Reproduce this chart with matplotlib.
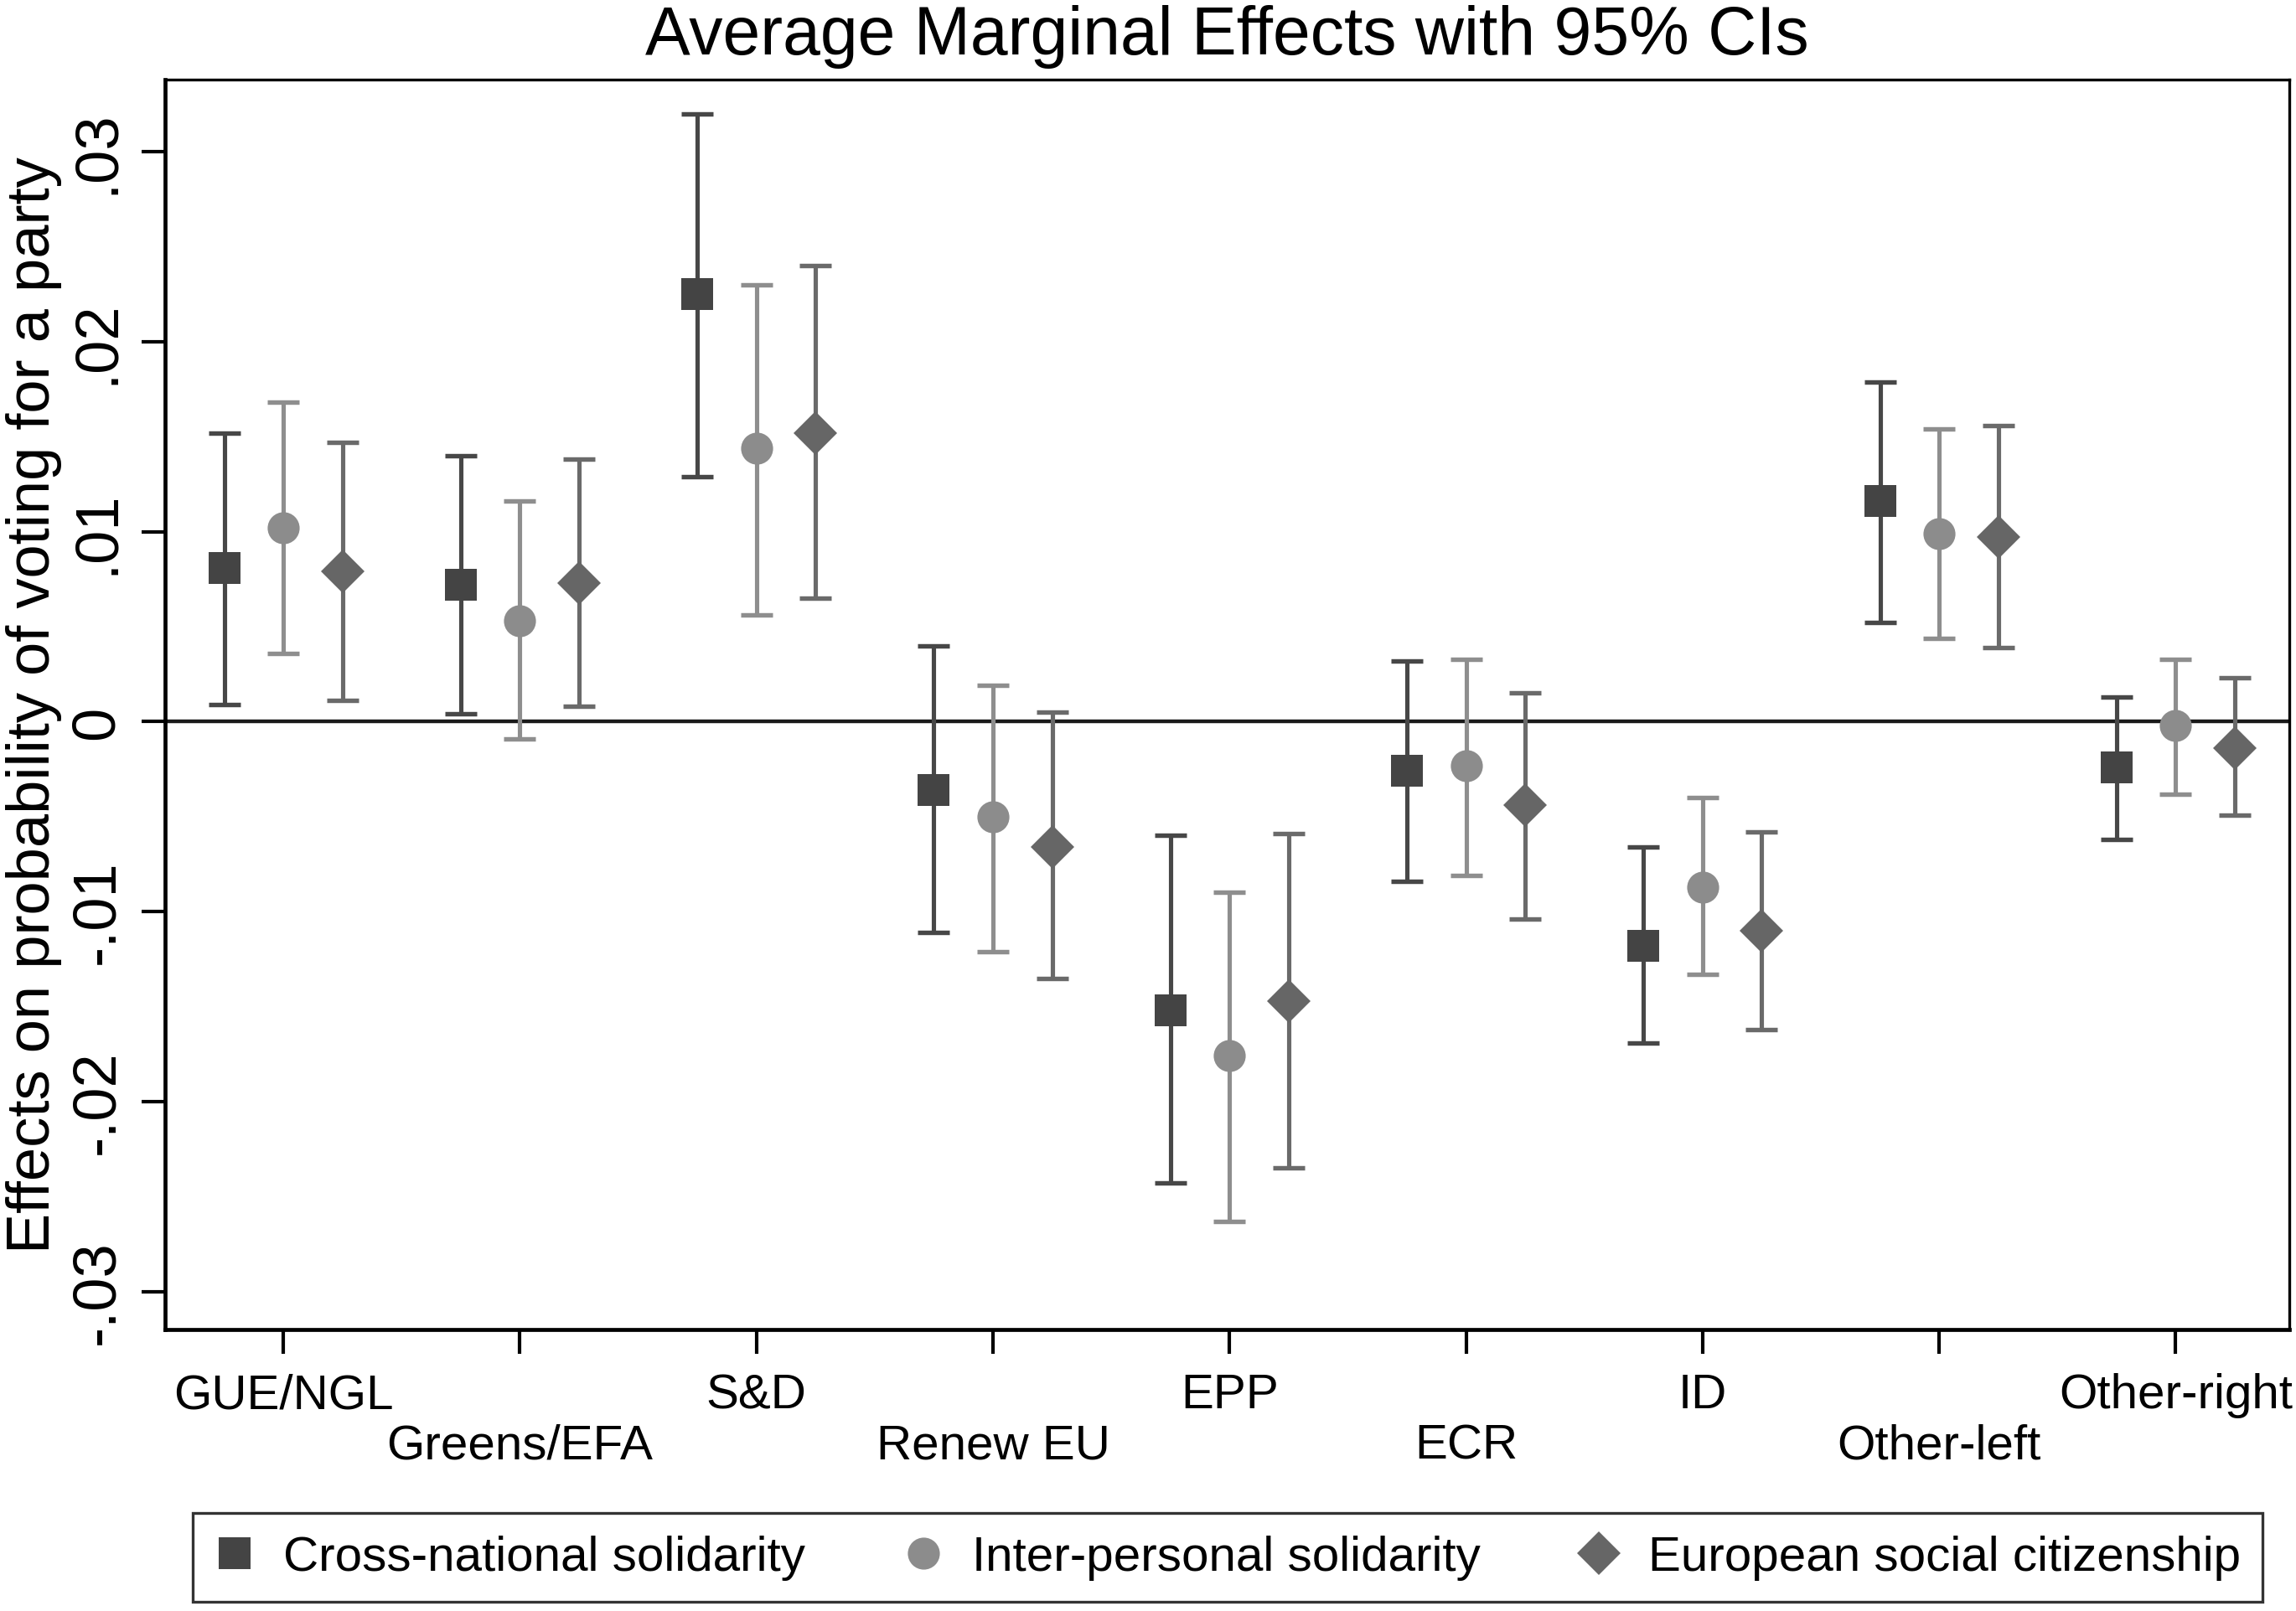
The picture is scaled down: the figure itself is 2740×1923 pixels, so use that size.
import numpy as np
import matplotlib
matplotlib.use("Agg")
import matplotlib.pyplot as plt
from matplotlib.lines import Line2D

plt.rcParams['font.family'] = ['Liberation Sans', 'DejaVu Sans']

parties = ["GUE/NGL", "Greens/EFA", "S&D", "Renew EU", "EPP", "ECR", "ID", "Other-left", "Other-right"]

cross_est = [0.0081, 0.0072, 0.0225, -0.0036, -0.0152, -0.0026, -0.0118, 0.0116, -0.0024]
cross_lo = [0.0009, 0.0004, 0.0129, -0.0111, -0.0243, -0.0084, -0.0169, 0.0052, -0.0062]
cross_hi = [0.0152, 0.0140, 0.0320, 0.0040, -0.0060, 0.0032, -0.0066, 0.0179, 0.0013]

inter_est = [0.0102, 0.0053, 0.0144, -0.0050, -0.0176, -0.0023, -0.0087, 0.0099, -0.0002]
inter_lo = [0.0036, -0.0009, 0.0056, -0.0121, -0.0263, -0.0081, -0.0133, 0.0044, -0.0038]
inter_hi = [0.0168, 0.0116, 0.0230, 0.0019, -0.0090, 0.0033, -0.0040, 0.0154, 0.0033]

euro_est = [0.0079, 0.0073, 0.0152, -0.0066, -0.0147, -0.0044, -0.0110, 0.0097, -0.0014]
euro_lo = [0.0011, 0.0008, 0.0065, -0.0135, -0.0235, -0.0104, -0.0162, 0.0039, -0.0049]
euro_hi = [0.0147, 0.0138, 0.0240, 0.0005, -0.0059, 0.0015, -0.0058, 0.0156, 0.0023]

series_names = ["Cross-national solidarity", "Inter-personal solidarity", "European social citizenship"]

ytick_vals = [-0.03, -0.02, -0.01, 0, 0.01, 0.02, 0.03]
ytick_labels = ["-.03", "-.02", "-.01", "0", ".01", ".02", ".03"]

W, H = 2740, 1924
fig = plt.figure(figsize=(W / 100, H / 100), dpi=100)
ax = fig.add_axes([197 / W, 1 - 1588 / H, (2732 - 197) / W, (1588 - 96) / H])

x = np.arange(1, len(parties) + 1)
series = [
    (cross_est, cross_lo, cross_hi, 's', '#444444', '#474747', 28, -0.25),
    (inter_est, inter_lo, inter_hi, 'o', '#8c8c8c', '#8e8e8e', 27.5, 0.0),
    (euro_est, euro_lo, euro_hi, 'D', '#666666', '#6a6a6a', 26.5, 0.25),
]

ax.axhline(0, color='#1a1a1a', lw=3.2, zorder=1)

handles = []
for (est, lo, hi, mk, mcol, lcol, ms, off), name in zip(series, series_names):
    est = np.array(est); lo = np.array(lo); hi = np.array(hi)
    ax.errorbar(x + off, est, yerr=[est - lo, hi - est], fmt='none',
                ecolor=lcol, elinewidth=3.7, capsize=13.5, capthick=3.9, zorder=2)
    ax.plot(x + off, est, linestyle='none', marker=mk, markersize=ms,
            markerfacecolor=mcol, markeredgecolor=mcol, markeredgewidth=0, zorder=3)
    handles.append(Line2D([], [], linestyle='none', marker=mk, markersize=ms,
                          markerfacecolor=mcol, markeredgecolor=mcol, markeredgewidth=0))

ax.set_xlim(0.5, 9.48)
ax.set_ylim(-0.0320, 0.0338)

ax.set_yticks(ytick_vals)
ax.set_yticklabels(ytick_labels, rotation=90, va='center', fontsize=52)
ax.tick_params(axis='y', length=20, width=3.0, pad=14, direction='out')

ax.set_xticks(x[0::2])
ax.set_xticklabels(parties[0::2], fontsize=42)
ax.set_xticks(x[1::2], minor=True)
ax.set_xticklabels(parties[1::2], minor=True, fontsize=42)
ax.tick_params(axis='x', which='major', length=21, width=3.0, pad=16, direction='out')
ax.tick_params(axis='x', which='minor', length=21, width=3.0, pad=59, direction='out')

for side in ['left', 'bottom']:
    ax.spines[side].set_linewidth(3.4)
for side in ['top', 'right']:
    ax.spines[side].set_linewidth(2.4)

ax.set_ylabel("Effects on probability of voting for a party", fontsize=52, labelpad=6)
ax.set_title("Average Marginal Effects with 95% CIs", fontsize=58, pad=22)

leg = fig.legend(handles, series_names, loc='center', ncol=3,
                 bbox_to_anchor=(1465 / W, 1 - 1860 / H), fontsize=42,
                 frameon=True, fancybox=False, edgecolor='black',
                 handlelength=0.8, handletextpad=0.6, columnspacing=2.02,
                 borderpad=0.45, borderaxespad=0)
leg.get_frame().set_linewidth(2.4)

fig.savefig("out.png", dpi=100, facecolor='white')
